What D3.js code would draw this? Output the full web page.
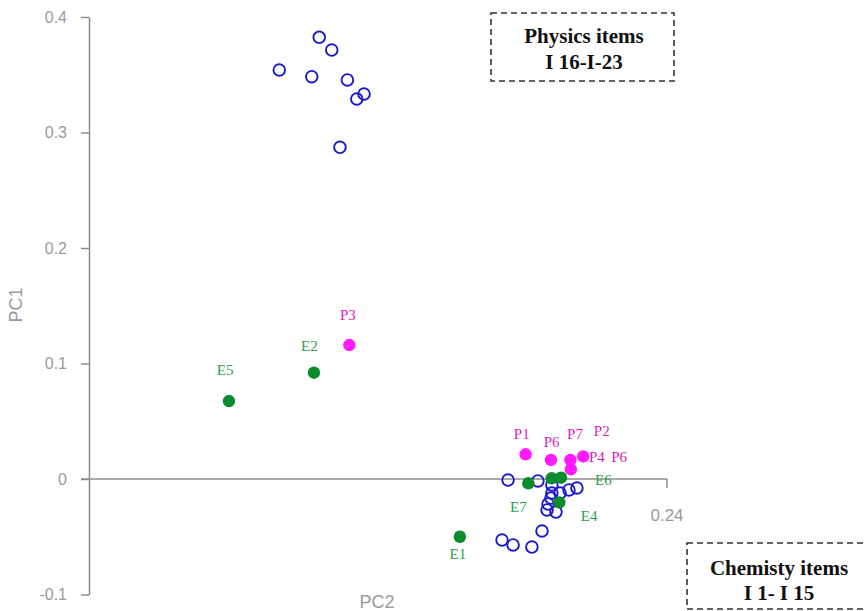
<!DOCTYPE html>
<html>
<head>
<meta charset="utf-8">
<script src="https://cdn.jsdelivr.net/npm/d3@7/dist/d3.min.js"></script>
<style>
  html, body { margin: 0; padding: 0; background: #fff; }
  svg { display: block; }
</style>
</head>
<body>
<svg id="chart" width="864" height="611"></svg>
<script>
// ---------- DATA (PC2, PC1) ----------
const physicsItems = [ // I16-I23, open circles
  [0.0956, 0.3824], [0.1008, 0.3714], [0.0790, 0.3541], [0.0925, 0.3483],
  [0.1073, 0.3455], [0.1142, 0.3333], [0.1112, 0.3290], [0.1042, 0.2872]
];
const chemistryItems = [ // I1-I15, open circles
  [0.1740, -0.0009], [0.1864, -0.0017], [0.1922, -0.0052], [0.1922, -0.0121],
  [0.1956, -0.0121], [0.1993, -0.0095], [0.2026, -0.0078], [0.1918, -0.0165],
  [0.1906, -0.0216], [0.1902, -0.0268], [0.1939, -0.0286], [0.1881, -0.0450],
  [0.1715, -0.0528], [0.1761, -0.0571], [0.1839, -0.0589]
];
const pPoints = [ // magenta filled
  [0.1813, 0.0214], [0.1918, 0.0165], [0.1999, 0.0165], [0.2052, 0.0195],
  [0.2001, 0.0084], [0.1081, 0.1160]
];
const ePoints = [ // green filled
  [0.1824, -0.0037], [0.1921, 0.0006], [0.1960, 0.0011], [0.1953, -0.0202],
  [0.1540, -0.0500], [0.0934, 0.0920], [0.0581, 0.0675]
];
const pLabels = [
  ["P3", 0.1075, 0.1420], ["P1", 0.1797, 0.0390], ["P6", 0.1921, 0.0323],
  ["P7", 0.2018, 0.0390], ["P2", 0.2129, 0.0418], ["P4", 0.2109, 0.0193],
  ["P6", 0.2201, 0.0193]
];
const eLabels = [
  ["E2", 0.0915, 0.1154], ["E5", 0.0565, 0.0950], ["E6", 0.2136, -0.0003],
  ["E7", 0.1783, -0.0240], ["E4", 0.2077, -0.0320], ["E1", 0.1532, -0.0649]
];
const yTicks = [-0.1, 0, 0.1, 0.2, 0.3, 0.4];
const yTickLabels = ["-0.1", "0", "0.1", "0.2", "0.3", "0.4"];
const xTickValue = 0.24;
const xTickLabel = "0.24";
const boxes = [
  { lines: ["Physics items", "I 16-I-23"] },
  { lines: ["Chemisty items", "I 1- I 15"] }
];

// ---------- SCALES ----------
const svg = d3.select("#chart");
const x = d3.scaleLinear().domain([0, 0.24]).range([89, 667]);
const y = d3.scaleLinear().domain([-0.1, 0.4]).range([594.5, 17]);

const axisColor = "#8c8c8c";
const tickTextColor = "#9a9a9a";

// ---------- Y AXIS ----------
const yAxis = d3.axisLeft(y).tickValues(yTicks)
  .tickFormat((d, i) => yTickLabels[i]).tickSize(8).tickSizeOuter(0).tickPadding(14);
const gy = svg.append("g").attr("transform", `translate(${x(0)},0)`).call(yAxis);
gy.select(".domain").attr("stroke", axisColor).attr("stroke-width", 1.5);
gy.selectAll(".tick line").attr("stroke", axisColor).attr("stroke-width", 1.5);
gy.selectAll(".tick text").attr("fill", tickTextColor)
  .style("font-family", "Liberation Sans, Arial, sans-serif").style("font-size", "16px");

// ---------- X AXIS (zero line with end tick) ----------
const gx = svg.append("g").attr("transform", `translate(0,${y(0)})`);
gx.append("line").attr("x1", x(0) - 8).attr("x2", x(xTickValue))
  .attr("y1", 0).attr("y2", 0).attr("stroke", axisColor).attr("stroke-width", 1.5);
gx.append("line").attr("x1", x(xTickValue)).attr("x2", x(xTickValue))
  .attr("y1", 0).attr("y2", 9).attr("stroke", axisColor).attr("stroke-width", 1.5);
gx.append("text").attr("x", x(xTickValue)).attr("y", 42)
  .attr("text-anchor", "middle").attr("fill", tickTextColor)
  .style("font-family", "Liberation Sans, Arial, sans-serif").style("font-size", "17px")
  .text(xTickLabel);

// axis titles
svg.append("text").attr("transform", "translate(22,305) rotate(-90)")
  .attr("text-anchor", "middle").attr("fill", tickTextColor)
  .style("font-family", "Liberation Sans, Arial, sans-serif").style("font-size", "18px")
  .text("PC1");
svg.append("text").attr("x", 377).attr("y", 608)
  .attr("text-anchor", "middle").attr("fill", tickTextColor)
  .style("font-family", "Liberation Sans, Arial, sans-serif").style("font-size", "18px")
  .text("PC2");

// ---------- POINTS ----------
const blue = "#1a1acc";
svg.append("g").selectAll("circle").data(physicsItems.concat(chemistryItems)).join("circle")
  .attr("cx", d => x(d[0])).attr("cy", d => y(d[1])).attr("r", 5.8)
  .attr("fill", "none").attr("stroke", blue).attr("stroke-width", 1.9);

svg.append("g").selectAll("circle").data(ePoints).join("circle")
  .attr("cx", d => x(d[0])).attr("cy", d => y(d[1])).attr("r", 6.2)
  .attr("fill", "#0b8a2e");
svg.append("g").selectAll("circle").data(pPoints).join("circle")
  .attr("cx", d => x(d[0])).attr("cy", d => y(d[1])).attr("r", 6.2)
  .attr("fill", "#ff1aff");

// ---------- LABELS ----------
const lblFont = "Liberation Serif, Times New Roman, serif";
svg.append("g").selectAll("text").data(pLabels).join("text")
  .attr("x", d => x(d[1])).attr("y", d => y(d[2])).attr("dy", "0.35em")
  .attr("text-anchor", "middle").attr("fill", "#d61fb8")
  .style("font-family", lblFont).style("font-size", "15px").text(d => d[0]);
svg.append("g").selectAll("text").data(eLabels).join("text")
  .attr("x", d => x(d[1])).attr("y", d => y(d[2])).attr("dy", "0.35em")
  .attr("text-anchor", "middle").attr("fill", "#2e9e4f")
  .style("font-family", lblFont).style("font-size", "15px").text(d => d[0]);

// ---------- BOXES ----------
const boxGeom = [
  { x: 491, y: 13, w: 183, h: 68, cx: 584, ly: [36, 62] },
  { x: 687, y: 543, w: 190, h: 66, cx: 779, ly: [568, 593] }
];
boxes.forEach((b, i) => {
  const g = boxGeom[i];
  svg.append("rect").attr("x", g.x).attr("y", g.y).attr("width", g.w).attr("height", g.h)
    .attr("fill", "#fff").attr("stroke", "#333").attr("stroke-width", 1.6)
    .attr("stroke-dasharray", "6,4");
  b.lines.forEach((t, j) => {
    svg.append("text").attr("x", g.cx).attr("y", g.ly[j]).attr("dy", "0.35em")
      .attr("text-anchor", "middle").attr("fill", "#111")
      .style("font-family", lblFont).style("font-weight", "bold").style("font-size", "21px")
      .text(t);
  });
});
</script>
</body>
</html>
